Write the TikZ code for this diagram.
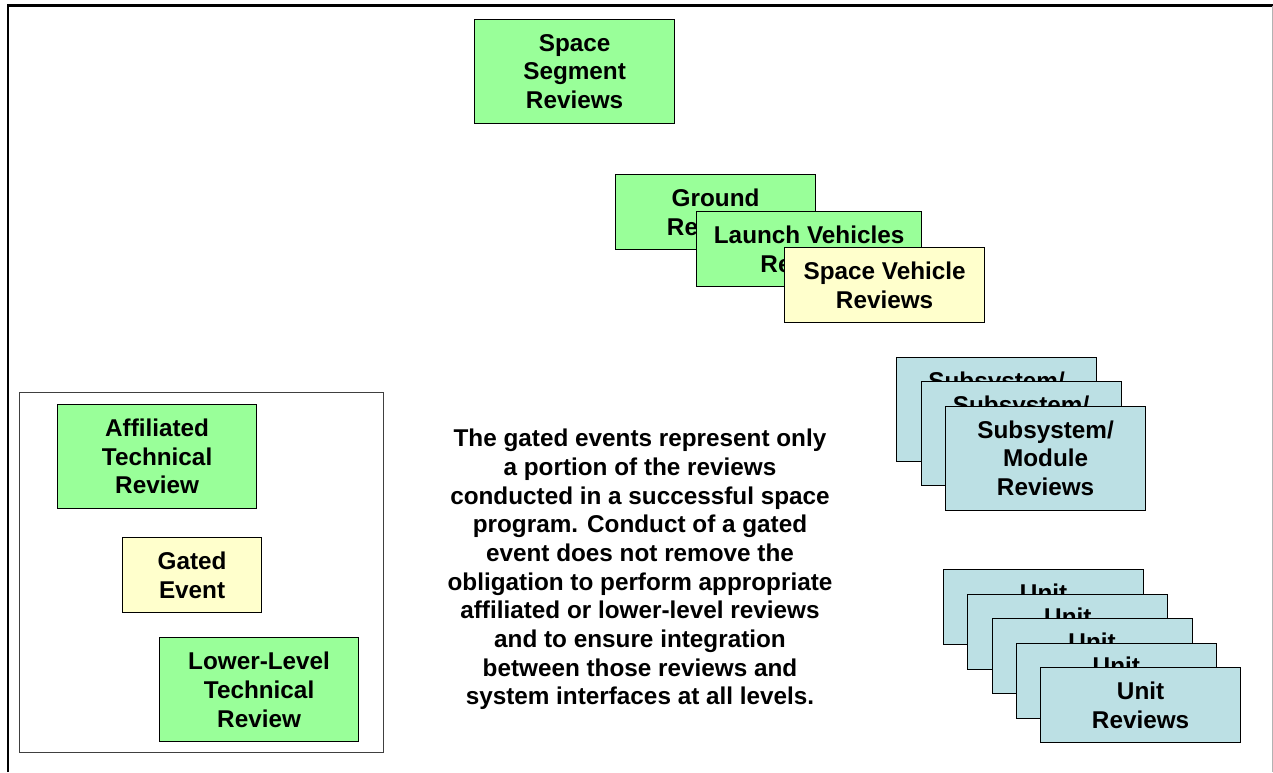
\documentclass[tikz,border=0pt]{standalone}
\usepackage{fontspec}
\setmainfont{Liberation Sans}
\definecolor{boxgreen}{HTML}{99FF99}
\definecolor{boxyellow}{HTML}{FFFFCC}
\definecolor{boxblue}{HTML}{BCE0E4}
\begin{document}
\begin{tikzpicture}[x=1pt,y=-1pt,
  rbox/.style={draw=black, line width=1.2pt, anchor=north west, inner sep=0pt,
    align=center, font=\fontsize{24.3}{28.7}\selectfont\bfseries},
  gbox/.style={rbox, fill=boxgreen},
  ybox/.style={rbox, fill=boxyellow},
  bbox/.style={rbox, fill=boxblue},
  sz/.style 2 args={minimum width=#1pt, minimum height=#2pt}]
\useasboundingbox (0,0) rectangle (1273,772);
% outer frame
\draw[line width=2.5pt] (8,772) -- (8,5.5) -- (1273,5.5);
\draw[black!30, line width=1pt] (1272,5.5) -- (1272,772);

% top
\node[gbox, sz={200}{104}] (seg) at (474,19) {Space\\Segment\\Reviews};

% segment stack
\node[gbox, sz={200}{75}] (gnd) at (615,174) {Ground\\Reviews};
\node[gbox, sz={225}{75}] (lv) at (696,211) {Launch Vehicles\\Reviews};
\node[ybox, sz={200}{75}] (sv) at (784,247) {Space Vehicle\\Reviews};

% subsystem stack
\node[bbox, sz={200}{104}] (sub1) at (896,357) {Subsystem/\\Module\\Reviews};
\node[bbox, sz={200}{104}] (sub2) at (920.5,381) {Subsystem/\\Module\\Reviews};
\node[bbox, sz={200}{104}] (sub3) at (945,405.5) {Subsystem/\\Module\\Reviews};

% unit stack
\node[bbox, sz={200}{75}] (u1) at (943,569) {Unit\\Reviews};
\node[bbox, sz={200}{75}] (u2) at (967.25,593.5) {Unit\\Reviews};
\node[bbox, sz={200}{75}] (u3) at (991.5,618) {Unit\\Reviews};
\node[bbox, sz={200}{75}] (u4) at (1015.75,642.5) {Unit\\Reviews};
\node[bbox, sz={200}{75}] (u5) at (1040,667) {Unit\\Reviews};

% legend
\draw[black!75, line width=1pt] (19.5,392) rectangle (383,752);
\node[gbox, sz={199}{104}] (aff) at (57,404) {Affiliated\\Technical\\Review};
\node[ybox, sz={139}{75}] (gate) at (122,537) {Gated\\Event};
\node[gbox, sz={199}{104}] (low) at (159,637) {Lower-Level\\Technical\\Review};

% note
\node[align=center, inner sep=0pt, font=\fontsize{24.3}{28.7}\selectfont\bfseries] (note) at (640,569.5)
{The gated events represent only\\
a portion of the reviews\\
conducted in a successful space\\
program. Conduct of a gated\\
event does not remove the\\
obligation to perform appropriate\\
affiliated or lower-level reviews\\
and to ensure integration\\
between those reviews and\\
system interfaces at all levels.};
\end{tikzpicture}
\end{document}
